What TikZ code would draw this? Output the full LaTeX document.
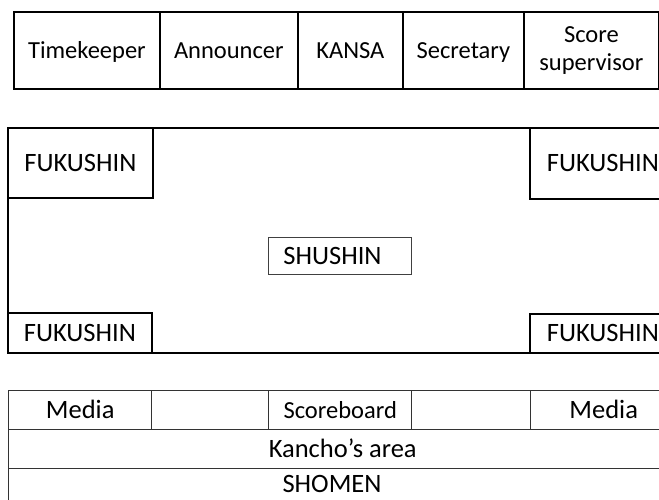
\documentclass[tikz,border=0pt]{standalone}
\usepackage{fontspec}
\setmainfont{Carlito}
\begin{document}
\begin{tikzpicture}[x=1pt,y=-1pt,
  cell/.style={draw=black, line width=1.8pt, inner sep=0pt, anchor=north west, align=center, font=\fontsize{24.5}{28}\selectfont, text height=15.8pt, text depth=0pt},
  big/.style={font=\fontsize{26.5}{30}\selectfont, text height=17pt, text depth=0pt},
  low/.style={draw=black!80, line width=1.4pt},
  txt/.style={inner sep=0pt, font=\fontsize{26.5}{30}\selectfont, text height=17pt, text depth=0pt}]
\useasboundingbox (0,0) rectangle (659,499);
\clip (0,0) rectangle (659,499);
% top row
\node[cell, minimum width=146pt, minimum height=77pt] (tk) at (13,11) {Timekeeper};
\node[cell, minimum width=138pt, minimum height=77pt] (an) at (159,11) {Announcer};
\node[cell, minimum width=105pt, minimum height=77pt] (ka) at (297,11) {KANSA};
\node[cell, minimum width=121pt, minimum height=77pt] (se) at (402,11) {Secretary};
\node[cell, minimum width=135pt, minimum height=77pt, text height=, text depth=] (ss) at (523,11) {Score\\supervisor};
% middle area
\node[cell, minimum width=690pt, minimum height=225pt] (mat) at (7,127) {};
\node[cell, big, minimum width=145pt, minimum height=70pt] (ftl) at (7,127) {FUKUSHIN};
\node[cell, big, minimum width=144pt, minimum height=40pt] (fbl) at (7,312) {FUKUSHIN};
\node[cell, big, minimum width=146pt, minimum height=71pt] (ftr) at (529,127) {FUKUSHIN};
\node[cell, big, minimum width=146pt, minimum height=39pt] (fbr) at (529,313) {FUKUSHIN};
\node[cell, minimum width=143pt, minimum height=37pt, line width=1.2pt, draw=black!75] (shbox) at (268,237) {};
\node[txt] (sh) at (332.5,256) {SHUSHIN};
% bottom
\node[cell, low, big, minimum width=143pt, minimum height=39pt] (m1) at (8,390) {Media};
\node[cell, low, minimum width=117pt, minimum height=39pt] (e1) at (151,390) {};
\node[cell, low, minimum width=143pt, minimum height=39pt] (sb) at (268,390) {Scoreboard};
\node[cell, low, minimum width=119pt, minimum height=39pt] (e2) at (411,390) {};
\node[cell, low, big, minimum width=146pt, minimum height=39pt] (m2) at (530,390) {Media};
\node[cell, low, big, minimum width=668pt, minimum height=39pt] (kan) at (8,429) {Kancho’s area};
\node[cell, low, minimum width=668pt, minimum height=39pt] (shobox) at (8,468) {};
\node[txt] (sho) at (332,484) {SHOMEN};
\end{tikzpicture}
\end{document}
